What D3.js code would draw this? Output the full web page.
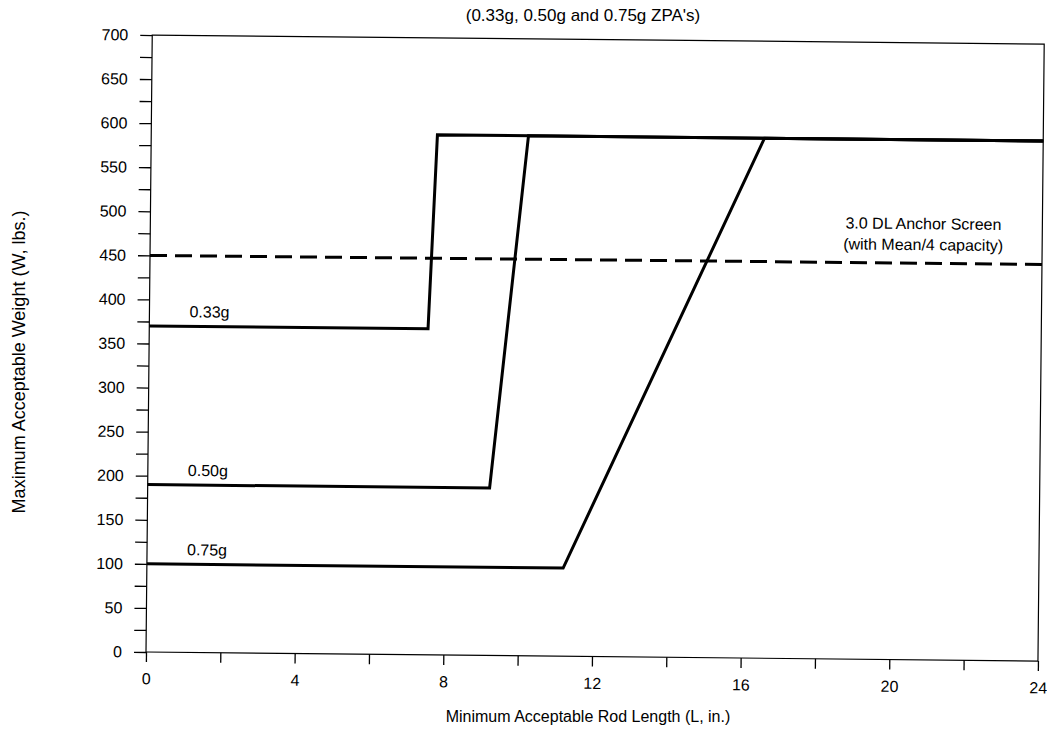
<!DOCTYPE html>
<html><head><meta charset="utf-8">
<script src="https://cdn.jsdelivr.net/npm/d3@7"></script>
<style>body{margin:0;background:#fff;} svg{display:block;font-family:"Liberation Sans",Arial,sans-serif;}</style>
</head><body><div id="c"></div>
<script>
const seriesNames = ["0.33g", "0.50g", "0.75g"];
const rodLength033 = [0, 7.5, 7.7, 24];
const weight033    = [370, 370, 590, 590];
const rodLength050 = [0, 9.2, 10.15, 24];
const weight050    = [190, 190, 590, 590];
const rodLength075 = [0, 11.2, 16.5, 24];
const weight075    = [100, 100, 590, 590];
const screenLength = [0, 24];
const screenWeight = [450, 450];
const xTicks = [0, 4, 8, 12, 16, 20, 24];
const yTicks = [0, 50, 100, 150, 200, 250, 300, 350, 400, 450, 500, 550, 600, 650, 700];

const W = 1047, H = 739;
const ox = 146, oy = 652, pw = 892, ph = 617;
const svg = d3.select("#c").append("svg").attr("width", W).attr("height", H);
const x = d3.scaleLinear().domain([0, 24]).range([0, pw]);
const y = d3.scaleLinear().domain([0, 700]).range([0, -ph]);

const g = svg.append("g").attr("transform", `translate(${ox},${oy}) rotate(0.58)`);

g.append("rect").attr("x", 0).attr("y", -ph).attr("width", pw).attr("height", ph)
  .attr("fill", "none").attr("stroke", "#000").attr("stroke-width", 1.2);

const yAxis = d3.axisLeft(y).tickValues(d3.range(0, 701, 25)).tickSize(12)
  .tickFormat(d => yTicks.includes(d) ? d : "");
const ya = g.append("g").call(yAxis);
ya.select(".domain").remove();
ya.selectAll("line").attr("stroke", "#000").attr("stroke-width", 1.3);
ya.selectAll("text").attr("font-size", 16).attr("fill", "#000").attr("x", -24)
  .attr("font-family", "Liberation Sans, Arial, sans-serif");

const xAxis = d3.axisBottom(x).tickValues(d3.range(0, 25, 2)).tickSize(10)
  .tickFormat(d => xTicks.includes(d) ? d : "");
const xa = g.append("g").call(xAxis);
xa.select(".domain").remove();
xa.selectAll("line").attr("stroke", "#000").attr("stroke-width", 1.3);
xa.selectAll("text").attr("font-size", 16).attr("fill", "#000").attr("y", 21)
  .attr("font-family", "Liberation Sans, Arial, sans-serif");

const line = d3.line().x(d => x(d[0])).y(d => y(d[1]));
const series = [
  [rodLength033, weight033],
  [rodLength050, weight050],
  [rodLength075, weight075]
];
series.forEach(([L, Wt], i) => {
  const pts = L.map((v, k) => [v, Wt[k]]);
  g.append("path").attr("d", line(pts)).attr("fill", "none")
    .attr("stroke", "#000").attr("stroke-width", 3).attr("stroke-linejoin", "miter");
  g.append("text").attr("x", x(0) + 40).attr("y", y(Wt[0]) - 9)
    .attr("font-size", 16).text(seriesNames[i]);
});

g.append("path").attr("d", line(screenLength.map((v, k) => [v, screenWeight[k]])))
  .attr("fill", "none").attr("stroke", "#000").attr("stroke-width", 3)
  .attr("stroke-dasharray", "17,8");

g.append("text").attr("x", x(20.8)).attr("y", y(screenWeight[0]) - 34)
  .attr("text-anchor", "middle").attr("font-size", 16).text("3.0 DL Anchor Screen");
g.append("text").attr("x", x(20.8)).attr("y", y(screenWeight[0]) - 13)
  .attr("text-anchor", "middle").attr("font-size", 16).text("(with Mean/4 capacity)");

svg.append("text").attr("x", 583).attr("y", 21).attr("text-anchor", "middle")
  .attr("font-size", 17).text("(0.33g, 0.50g and 0.75g ZPA's)");
svg.append("text").attr("x", 588).attr("y", 722).attr("text-anchor", "middle")
  .attr("font-size", 16).text("Minimum Acceptable Rod Length (L, in.)");
svg.append("text").attr("transform", "translate(25,362) rotate(-90)").attr("text-anchor", "middle")
  .attr("font-size", 18).text("Maximum Acceptable Weight (W, lbs.)");
</script></body></html>
